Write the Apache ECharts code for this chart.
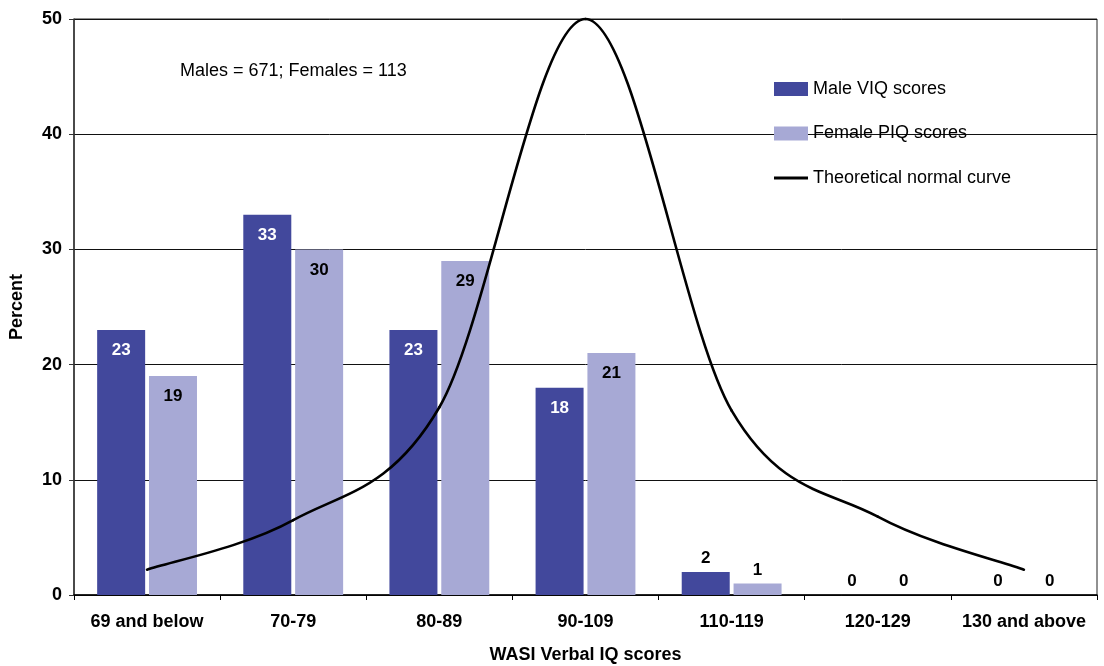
<!DOCTYPE html>
<html>
<head>
<meta charset="utf-8">
<script src="https://cdn.jsdelivr.net/npm/echarts@6/dist/echarts.min.js"></script>
<style>
  html, body { margin: 0; padding: 0; background: #ffffff; }
  #chart { width: 1104px; height: 666px; }
</style>
</head>
<body>
<div id="chart"></div>
<script>
// ---- Data ----
const categories = ['69 and below', '70-79', '80-89', '90-109', '110-119', '120-129', '130 and above'];
const maleVIQ = [23, 33, 23, 18, 2, 0, 0];
const femalePIQ = [19, 30, 29, 21, 1, 0, 0];
const normalCurve = [2.2, 6.5, 16.3, 50, 16, 6.8, 2.2];
const yTicks = { min: 0, max: 50, interval: 10 };
const seriesNames = ['Male VIQ scores', 'Female PIQ scores', 'Theoretical normal curve'];
const xTitle = 'WASI Verbal IQ scores';
const yTitle = 'Percent';
const note = 'Males = 671; Females = 113';

// ---- Styles ----
const FONT = "'Liberation Sans', Arial, sans-serif";
const MALE = '#42489C';
const FEMALE = '#A7A9D5';

function barData(values, insideColor) {
  return values.map(v => ({
    value: v,
    label: v >= 10
      ? { position: 'insideTop', distance: 12, color: insideColor }
      : { position: 'top', distance: 5, color: '#000' }
  }));
}

// Smooth curve (Catmull-Rom style bezier) through the data points, via the axis coordinates
function renderCurve(params, api) {
  const i = params.dataIndexInside;
  const n = params.dataInsideLength;
  if (i >= n - 1) return;
  const pt = k => api.coord([api.value(0, k), api.value(1, k)]);
  const p0 = pt(Math.max(i - 1, 0));
  const p1 = pt(i);
  const p2 = pt(i + 1);
  const p3 = pt(Math.min(i + 2, n - 1));
  return {
    type: 'bezierCurve',
    shape: {
      x1: p1[0], y1: p1[1], x2: p2[0], y2: p2[1],
      cpx1: p1[0] + (p2[0] - p0[0]) / 6, cpy1: p1[1] + (p2[1] - p0[1]) / 6,
      cpx2: p2[0] - (p3[0] - p1[0]) / 6, cpy2: p2[1] - (p3[1] - p1[1]) / 6
    },
    style: { fill: 'none', stroke: '#000', lineWidth: 2.6, lineCap: 'round' }
  };
}

const chart = echarts.init(document.getElementById('chart'), null, { renderer: 'canvas' });
chart.setOption({
  animation: false,
  backgroundColor: '#ffffff',
  textStyle: { fontFamily: FONT },
  grid: {
    left: 74, right: 7, top: 19, bottom: 71,
    show: true, borderColor: '#222', borderWidth: 1,
    outerBoundsMode: 'none'
  },
  legend: {
    orient: 'vertical',
    left: 774, top: 79, padding: 0,
    itemWidth: 34, itemHeight: 14, itemGap: 24.5,
    textStyle: { fontSize: 18, color: '#000', fontFamily: FONT, lineHeight: 20 },
    data: [
      { name: seriesNames[0], icon: 'rect' },
      { name: seriesNames[1], icon: 'rect' },
      { name: seriesNames[2], icon: 'path://M0,0h0.01v0.01h-0.01z M0,5.5h34v3h-34z M0,13.99h0.01v0.01h-0.01z' }
    ]
  },
  xAxis: {
    type: 'category',
    data: categories,
    name: xTitle,
    nameLocation: 'middle',
    nameGap: 51,
    nameTextStyle: { fontSize: 18, fontWeight: 'bold', color: '#000', fontFamily: FONT },
    axisLine: { lineStyle: { color: '#000', width: 1.5 } },
    axisTick: { show: true, length: 5, lineStyle: { color: '#000' } },
    axisLabel: { fontSize: 18, fontWeight: 'bold', color: '#000', margin: 18, interval: 0, fontFamily: FONT },
    splitLine: { show: false }
  },
  yAxis: {
    type: 'value',
    min: yTicks.min, max: yTicks.max, interval: yTicks.interval,
    name: yTitle,
    nameLocation: 'middle',
    nameGap: 48,
    nameRotate: 90,
    nameTextStyle: { fontSize: 18, fontWeight: 'bold', color: '#000', fontFamily: FONT },
    axisLine: { show: true, lineStyle: { color: '#333', width: 1.5 } },
    axisTick: { show: true, length: 5, lineStyle: { color: '#333' } },
    axisLabel: { fontSize: 18, fontWeight: 'bold', color: '#000', margin: 12, fontFamily: FONT },
    splitLine: { show: true, lineStyle: { color: '#111', width: 1 } }
  },
  graphic: [{
    type: 'text',
    x: 180, y: 71,
    style: { text: note, font: '18px ' + FONT, fill: '#000', verticalAlign: 'middle' }
  }],
  series: [
    {
      name: seriesNames[0],
      type: 'bar',
      barWidth: 48,
      barGap: '8%',
      itemStyle: { color: MALE },
      label: { show: true, fontSize: 17, fontWeight: 'bold', fontFamily: FONT },
      data: barData(maleVIQ, '#fff'),
      z: 2
    },
    {
      name: seriesNames[1],
      type: 'bar',
      barWidth: 48,
      itemStyle: { color: FEMALE },
      label: { show: true, fontSize: 17, fontWeight: 'bold', fontFamily: FONT },
      data: barData(femalePIQ, '#000'),
      z: 2
    },
    {
      name: seriesNames[2],
      type: 'custom',
      renderItem: renderCurve,
      itemStyle: { color: '#000' },
      encode: { x: 0, y: 1 },
      data: normalCurve.map((v, i) => [i, v]),
      clip: false,
      z: 5
    }
  ]
});
</script>
</body>
</html>
